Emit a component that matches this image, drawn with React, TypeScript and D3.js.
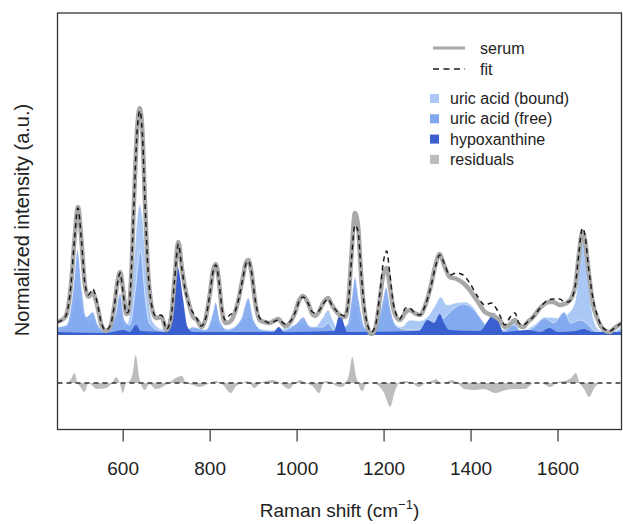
import React from 'react';
import * as d3 from 'd3';

type P = [number, number];

const xTicks = [600, 800, 1000, 1200, 1400, 1600];

const serum: P[] = [
  [449, 13], [465, 17], [470, 21], [480, 50], [488, 95], [496, 128], [504, 95], [512, 50], [520, 38], [530, 42],
  [540, 30], [550, 10], [560, 4], [570, 8], [580, 30], [587, 53], [593, 63], [600, 45], [607, 21], [612, 22],
  [618, 55], [625, 135], [632, 205], [638, 227], [644, 205], [650, 135], [657, 65], [665, 30], [675, 17], [688, 18],
  [700, 5], [710, 17], [718, 55], [727, 93], [735, 67], [742, 48], [752, 30], [761, 18], [770, 15], [780, 8],
  [790, 17], [800, 43], [807, 65], [813, 71], [820, 55], [827, 25], [835, 12], [845, 13], [855, 20], [865, 35],
  [875, 57], [883, 73], [888, 75], [895, 63], [903, 35], [914, 15], [925, 13], [937, 12], [950, 15], [957, 16],
  [965, 12], [972, 9], [985, 13], [995, 22], [1005, 35], [1014, 39], [1025, 32], [1035, 21], [1041, 19], [1050, 23],
  [1060, 32], [1071, 37], [1080, 30], [1091, 23], [1110, 18], [1118, 35], [1125, 80], [1133, 122], [1140, 110], [1148, 55],
  [1158, 15], [1171, 1], [1180, 7], [1190, 35], [1198, 60], [1206, 67], [1213, 50], [1222, 25], [1236, 15], [1250, 23],
  [1259, 25], [1270, 22], [1282, 20], [1295, 30], [1308, 50], [1318, 70], [1328, 81], [1338, 70], [1351, 58], [1367, 56],
  [1382, 52], [1397, 45], [1413, 35], [1432, 23], [1447, 20], [1466, 15], [1478, 8], [1490, 11], [1501, 15], [1510, 10],
  [1520, 8], [1530, 13], [1543, 18], [1555, 25], [1566, 30], [1578, 33], [1589, 33], [1604, 30], [1615, 31], [1623, 33],
  [1632, 38], [1640, 50], [1648, 80], [1656, 103], [1662, 95], [1670, 65], [1681, 30], [1690, 17], [1700, 8], [1710, 4],
  [1719, 3], [1730, 7], [1746, 12],
];

const fit: P[] = [
  [449, 13], [465, 17], [470, 21], [480, 50], [488, 95], [496, 127], [504, 95], [512, 52], [520, 40], [530, 46],
  [540, 33], [550, 12], [560, 5], [570, 9], [580, 30], [587, 52], [593, 62], [600, 42], [607, 22], [612, 23],
  [618, 56], [625, 134], [632, 203], [638, 224], [644, 203], [650, 135], [657, 66], [665, 31], [675, 19], [688, 20],
  [700, 6], [710, 17], [718, 54], [727, 91], [735, 66], [742, 47], [752, 30], [761, 22], [770, 16], [780, 9],
  [790, 17], [800, 43], [807, 64], [813, 70], [820, 55], [827, 27], [835, 15], [845, 20], [855, 22], [865, 35],
  [875, 56], [883, 72], [888, 74], [895, 63], [903, 37], [914, 17], [925, 14], [937, 12], [950, 14], [957, 15],
  [965, 13], [972, 11], [985, 14], [995, 22], [1005, 34], [1014, 38], [1025, 32], [1035, 23], [1041, 22], [1050, 24],
  [1060, 31], [1071, 36], [1080, 30], [1091, 24], [1110, 19], [1118, 33], [1125, 75], [1133, 110], [1140, 104], [1148, 58],
  [1158, 18], [1171, 3], [1180, 9], [1190, 40], [1198, 72], [1206, 84], [1213, 62], [1222, 30], [1236, 16], [1250, 27],
  [1259, 27], [1270, 22], [1282, 20], [1295, 30], [1308, 49], [1318, 68], [1328, 80], [1338, 72], [1351, 60], [1367, 62],
  [1382, 60], [1397, 52], [1413, 40], [1432, 30], [1447, 32], [1460, 25], [1466, 20], [1478, 10], [1490, 18], [1501, 22],
  [1510, 12], [1520, 10], [1530, 13], [1543, 18], [1555, 25], [1566, 31], [1578, 35], [1589, 36], [1604, 36], [1615, 33],
  [1623, 33], [1632, 37], [1640, 50], [1648, 82], [1656, 107], [1662, 100], [1670, 68], [1681, 35], [1690, 20], [1700, 9],
  [1710, 5], [1719, 4], [1730, 7], [1746, 12],
];

const uricBound: P[] = [
  [449, 6], [470, 8], [485, 25], [495, 42], [505, 25], [520, 14], [530, 15], [545, 6], [560, 2], [580, 10],
  [593, 22], [605, 8], [615, 20], [625, 75], [633, 120], [638, 130], [645, 115], [652, 70], [660, 30], [670, 12],
  [690, 6], [710, 6], [727, 10], [745, 6], [770, 4], [800, 8], [813, 14], [825, 6], [860, 8], [888, 18],
  [910, 6], [950, 5], [1014, 12], [1040, 8], [1060, 18], [1071, 25], [1082, 15], [1095, 5], [1120, 10], [1133, 30],
  [1150, 8], [1175, 2], [1195, 20], [1205, 35], [1218, 15], [1240, 8], [1260, 15], [1280, 14], [1300, 18], [1318, 30],
  [1330, 38], [1345, 30], [1365, 32], [1385, 33], [1405, 28], [1425, 15], [1445, 8], [1470, 5], [1500, 12], [1515, 4],
  [1545, 10], [1570, 18], [1600, 17], [1625, 22], [1640, 35], [1648, 65], [1656, 95], [1664, 80], [1672, 45], [1682, 15],
  [1695, 5], [1720, 3], [1746, 8],
];

const uricFree: P[] = [
  [449, 8], [470, 10], [485, 45], [495, 85], [505, 45], [515, 18], [530, 23], [542, 10], [560, 3], [582, 20],
  [593, 42], [603, 15], [615, 10], [628, 45], [640, 85], [650, 40], [660, 12], [680, 5], [720, 3], [750, 6],
  [760, 8], [790, 5], [805, 20], [813, 33], [822, 15], [840, 5], [870, 15], [888, 37], [900, 15], [920, 5],
  [960, 4], [1000, 12], [1014, 18], [1030, 8], [1060, 8], [1071, 12], [1085, 5], [1115, 10], [1125, 35], [1133, 58],
  [1142, 35], [1155, 8], [1175, 2], [1195, 30], [1205, 48], [1215, 25], [1230, 8], [1260, 5], [1300, 8], [1340, 18],
  [1365, 28], [1380, 31], [1400, 28], [1420, 18], [1440, 6], [1470, 3], [1500, 10], [1515, 3], [1545, 8], [1570, 17],
  [1590, 12], [1614, 23], [1630, 12], [1650, 15], [1665, 12], [1685, 4], [1720, 2], [1746, 6],
];

const hypoxanthine: P[] = [
  [449, 3], [560, 2], [600, 5], [615, 3], [630, 10], [640, 4], [700, 3], [712, 30], [722, 72], [728, 65],
  [738, 35], [748, 8], [760, 3], [850, 3], [945, 3], [958, 8], [970, 3], [1085, 4], [1095, 18], [1100, 22],
  [1107, 12], [1115, 3], [1280, 4], [1300, 15], [1315, 12], [1328, 21], [1338, 12], [1350, 5], [1420, 4], [1440, 15],
  [1452, 22], [1462, 15], [1475, 3], [1530, 5], [1560, 3], [1580, 7], [1600, 3], [1640, 4], [1660, 6], [1680, 3],
  [1746, 3],
];

const residuals: P[] = [
  [449, -2], [460, 0], [470, 0], [480, 4], [488, 10], [495, 0], [500, -3], [511, -9], [520, 0], [530, -3],
  [540, -6], [560, -5], [575, 0], [584, 6], [592, 0], [599, -10], [607, 0], [615, 2], [622, 10], [629, 28],
  [636, 8], [640, 0], [650, -7], [660, -1], [675, -6], [690, -4], [705, 0], [717, 4], [735, 7], [745, 0],
  [760, -2], [776, -4], [790, -2], [813, 2], [830, -2], [847, -10], [860, -3], [875, 0], [885, 2], [902, -5],
  [915, 0], [930, 2], [944, 3], [960, 0], [981, -6], [995, 0], [1007, 3], [1020, 0], [1035, -3], [1051, -10],
  [1060, 0], [1066, 2], [1080, 0], [1090, -3], [1103, -4], [1112, 0], [1120, 10], [1127, 26], [1135, 8], [1140, 0],
  [1150, -8], [1160, 0], [1170, 0], [1185, -2], [1200, -10], [1214, -24], [1225, -8], [1235, 0], [1250, 2], [1265, 0],
  [1280, -4], [1295, 0], [1310, 2], [1320, 4], [1330, 0], [1345, 1], [1355, 3], [1368, 0], [1385, -6], [1410, -7],
  [1430, -6], [1456, -10], [1480, -7], [1500, -6], [1524, -6], [1545, 0], [1560, 0], [1582, -4], [1600, 1], [1615, 2],
  [1630, 5], [1641, 10], [1650, 0], [1660, -6], [1671, -14], [1685, -4], [1700, 0], [1720, 0], [1746, 0],
];

const legendLines = ['serum', 'fit'];
const legendFills = ['uric acid (bound)', 'uric acid (free)', 'hypoxanthine', 'residuals'];

const COL_BOUND = '#a9c8f5';
const COL_FREE = '#7fa7ee';
const COL_HYPO = '#3a5fcf';
const COL_RES = '#bdbdbd';
const COL_SERUM = '#a8a8a8';

export default function App() {
  const W = 623;
  const H = 524;
  const L = 57.5, R = 621.5, T = 13, B = 429.5;
  const x = d3.scaleLinear().domain([449, 1746]).range([L, R]);
  const y = d3.scaleLinear().domain([-94.5, 322]).range([B, T]);
  const resZero = -48;

  const curve = d3.curveMonotoneX;
  const line = d3.line<P>().x(d => x(d[0])).y(d => y(d[1])).curve(curve);
  const area = d3.area<P>().x(d => x(d[0])).y0(y(0)).y1(d => y(d[1])).curve(curve);
  const resArea = d3.area<P>().x(d => x(d[0])).y0(y(resZero)).y1(d => y(resZero + d[1])).curve(curve);

  const font = 'Liberation Sans, Arial, Helvetica, sans-serif';

  return (
    <svg width={W} height={H} style={{ position: 'absolute', left: 0, top: 0, background: '#fff' }} fontFamily={font}>
      <defs>
        <clipPath id="plotclip">
          <rect x={L} y={T} width={R - L} height={B - T} />
        </clipPath>
      </defs>
      <g clipPath="url(#plotclip)">
        <path d={area(uricBound) || ''} fill={COL_BOUND} stroke="#ffffff" strokeWidth={0.8} strokeOpacity={0.7} />
        <path d={area(uricFree) || ''} fill={COL_FREE} fillOpacity={0.9} stroke="#ffffff" strokeWidth={0.8} strokeOpacity={0.7} />
        <path d={area(hypoxanthine) || ''} fill={COL_HYPO} stroke="none" />
        <path d={line(serum) || ''} fill="none" stroke={COL_SERUM} strokeWidth={4.5} strokeLinejoin="round" />
        <path d={line(fit) || ''} fill="none" stroke="#1a1a1a" strokeWidth={1.5} strokeDasharray="5,4" />
        <path d={resArea(residuals) || ''} fill={COL_RES} stroke="none" />
        <line x1={L} x2={R} y1={y(resZero)} y2={y(resZero)} stroke="#333" strokeWidth={1.5} strokeDasharray="5,4" />
      </g>
      <rect x={L} y={T} width={R - L} height={B - T} fill="none" stroke="#333" strokeWidth={1.3} />
      {xTicks.map(t => (
        <g key={t}>
          <line x1={x(t)} x2={x(t)} y1={B} y2={B + 12} stroke="#333" strokeWidth={1.2} />
          <text x={x(t)} y={475} textAnchor="middle" fontSize={19} fill="#222">{t}</text>
        </g>
      ))}
      <text x={(L + R) / 2} y={517} textAnchor="middle" fontSize={19} fill="#222">
        Raman shift (cm<tspan dy={-8} fontSize={13}>−1</tspan><tspan dy={8}>)</tspan>
      </text>
      <text transform={`translate(29,220) rotate(-90)`} textAnchor="middle" fontSize={20} fill="#222">
        Normalized intensity (a.u.)
      </text>
      <g fontSize={16} fill="#222">
        {legendLines.map((name, i) => (
          <g key={name}>
            <line x1={433} x2={465} y1={48 + i * 21} y2={48 + i * 21}
              stroke={i === 0 ? COL_SERUM : '#1a1a1a'} strokeWidth={i === 0 ? 3 : 1.5}
              strokeDasharray={i === 0 ? undefined : '6,4.5'} />
            <text x={480} y={54 + i * 21}>{name}</text>
          </g>
        ))}
        {legendFills.map((name, i) => {
          const c = [COL_BOUND, COL_FREE, COL_HYPO, COL_RES][i];
          return (
            <g key={name}>
              <rect x={430} y={94 + i * 20.3} width={9} height={9} fill={c} />
              <text x={450} y={104 + i * 20.3}>{name}</text>
            </g>
          );
        })}
      </g>
    </svg>
  );
}
